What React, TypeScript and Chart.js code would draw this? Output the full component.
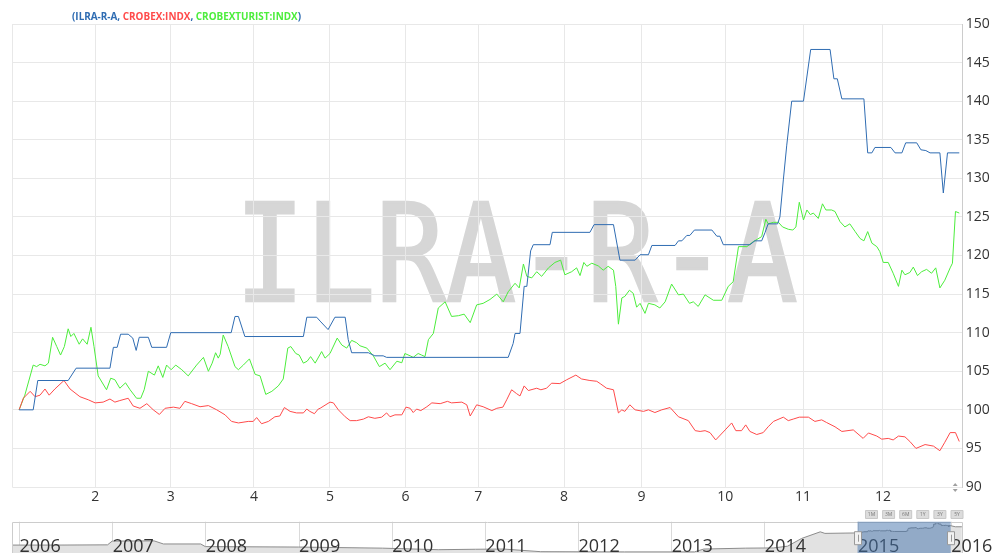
import React, { useEffect, useRef } from "react";
import { Chart, registerables } from "chart.js";

Chart.register(...registerables);

// ---------- data ----------
const HEADER_PARTS: [string, string][] = [
  ["(", "blue"],
  ["ILRA-R-A", "blue"],
  [", ", "blue"],
  ["CROBEX:INDX", "red"],
  [", ", "blue"],
  ["CROBEXTURIST:INDX", "green"],
  [")", "blue"],
];
const WATERMARK = "ILRA-R-A";

// x axis: trading-day index within 2015
const X_MAX = 250.1;
const MONTH_TICKS = [21.8, 41.7, 63.6, 83.6, 103.5, 122.6, 145.2, 165.6, 187.6, 208.1, 229.1];
const MONTH_LABELS = ["2", "3", "4", "5", "6", "7", "8", "9", "10", "11", "12"];
const Y_MIN = 90;
const Y_MAX = 150;
const Y_STEP = 5;

const ILRA: [number, number][] = [
  [1.8, 100], [5.5, 100], [6.7, 103.8], [14.7, 103.8], [16.8, 105.4], [25.7, 105.4],
  [26.6, 108.1], [27.6, 108.1], [28.5, 109.8], [30.5, 109.8], [31.7, 109.3], [32.6, 107.7],
  [33.4, 109.4], [35.8, 109.4], [36.7, 108.1], [40.6, 108.1], [41.7, 110.0], [57.6, 110.0],
  [58.6, 112.1], [59.5, 112.1], [61.2, 109.5], [76.6, 109.5], [77.5, 112.0], [80.1, 112.0],
  [81.0, 111.5], [83.1, 110.4], [84.9, 112.0], [87.6, 112.0], [88.4, 109.1], [89.3, 107.4],
  [93.7, 107.4], [95.4, 107.0], [97.6, 107.0], [98.5, 106.8], [130.5, 106.8], [131.8, 108.6],
  [132.3, 109.9], [133.6, 109.9], [134.7, 116.0], [135.4, 116.0], [136.4, 120.6], [137.1, 121.4],
  [141.5, 121.4], [142.1, 123.0], [152.0, 123.0], [153.1, 124.0], [158.2, 124.0], [159.9, 119.4],
  [163.9, 119.4], [165.2, 120.1], [167.4, 120.1], [168.3, 121.3], [174.4, 121.3], [175.3, 121.9],
  [176.2, 121.9], [177.5, 122.6], [178.3, 122.6], [179.5, 123.3], [184.1, 123.3], [185.4, 122.5],
  [186.2, 122.5], [187.1, 121.4], [194.1, 121.4], [195.4, 121.9], [197.2, 121.9], [198.1, 123.0],
  [198.9, 124.1], [201.4, 124.1], [202.0, 125.0], [202.9, 129.8], [203.8, 134.3], [205.1, 140.0],
  [208.2, 140.0], [210.1, 146.7], [215.2, 146.7], [216.2, 142.9], [217.1, 142.9], [218.3, 140.3],
  [224.1, 140.3], [225.1, 133.3], [226.2, 133.3], [227.0, 134.0], [231.2, 134.0], [232.3, 133.3],
  [234.1, 133.3], [235.1, 134.6], [238.0, 134.6], [239.1, 133.7], [240.4, 133.6], [241.5, 133.3],
  [244.1, 133.3], [245.0, 128.1], [246.1, 133.3], [249.2, 133.3],
];

const CROBEX: [number, number][] = [
  [1.8, 100], [2.9, 101.5], [4.7, 102.4], [6.0, 101.7], [7.3, 101.9], [8.6, 102.7], [9.7, 101.9],
  [11.2, 102.7], [13.6, 103.8], [15.2, 102.7], [17.8, 101.7], [20.0, 101.3], [21.8, 100.9],
  [23.9, 101.0], [25.7, 101.4], [27.0, 101.0], [28.3, 101.2], [30.5, 101.5], [31.8, 100.5],
  [33.6, 100.2], [35.4, 100.8], [37.1, 100.0], [38.7, 99.4], [40.2, 100.2], [42.4, 100.35],
  [44.1, 100.2], [45.4, 101.1], [47.2, 100.8], [49.4, 100.4], [51.6, 100.55], [53.8, 100.0],
  [56.0, 99.35], [57.7, 98.5], [59.5, 98.3], [62.1, 98.5], [63.4, 98.5], [64.3, 99.0], [65.6, 98.2],
  [67.4, 98.5], [69.1, 99.1], [70.4, 99.2], [71.6, 100.3], [73.1, 99.8], [74.8, 99.6], [76.6, 99.6],
  [77.5, 100.1], [78.3, 99.8], [79.5, 99.5], [80.5, 100.1], [81.0, 100.2], [83.6, 101.0],
  [84.5, 100.9], [85.8, 100.0], [87.6, 99.1], [88.9, 98.6], [90.6, 98.6], [92.4, 98.8], [93.7, 99.1],
  [95.4, 98.9], [97.2, 99.05], [98.5, 99.6], [99.4, 99.1], [100.7, 99.35], [102.5, 99.35],
  [103.6, 100.35], [104.7, 100.2], [105.5, 99.65], [106.4, 100.1], [107.5, 99.9], [109.1, 100.4],
  [110.4, 100.9], [112.6, 100.8], [114.5, 101.1], [115.6, 100.9], [118.3, 101.0], [119.6, 100.65],
  [120.5, 99.2], [122.2, 100.65], [123.9, 100.4], [126.2, 99.9], [127.5, 100.2], [129.1, 100.35],
  [130.1, 101.3], [131.4, 102.6], [132.7, 102.1], [133.6, 101.8], [134.7, 103.1], [135.8, 102.5],
  [138.0, 102.8], [139.1, 102.6], [140.6, 102.8], [141.9, 103.45], [144.1, 103.4], [145.9, 103.9],
  [148.3, 104.5], [149.8, 104.0], [152.0, 103.8], [153.8, 103.7], [154.7, 103.4], [156.4, 102.8],
  [158.2, 102.6], [159.5, 99.6], [160.4, 100.0], [161.2, 99.8], [162.5, 100.65], [163.9, 100.0],
  [166.1, 99.8], [167.4, 100.0], [169.1, 99.65], [170.9, 100.0], [173.1, 100.3], [175.3, 99.1],
  [177.9, 98.6], [179.7, 97.3], [181.0, 97.2], [182.3, 97.3], [183.6, 97.05], [185.1, 96.1],
  [187.6, 97.4], [189.3, 98.3], [190.4, 97.3], [191.9, 97.3], [193.0, 98.05], [194.1, 97.2],
  [195.9, 96.8], [197.6, 97.05], [198.9, 97.8], [200.3, 98.5], [202.9, 99.05], [204.2, 98.6],
  [205.5, 98.8], [207.1, 99.05], [209.5, 99.05], [211.2, 98.5], [213.0, 98.7], [214.3, 98.35],
  [216.5, 97.8], [218.3, 97.2], [221.3, 97.4], [223.9, 96.3], [225.3, 97.0], [227.5, 96.6],
  [228.8, 96.2], [230.5, 96.3], [231.8, 96.1], [233.2, 96.6], [234.9, 96.5], [236.2, 95.9],
  [237.8, 95.0], [240.2, 95.5], [242.4, 95.3], [244.1, 94.7], [245.4, 95.8], [246.8, 97.05],
  [248.2, 97.05], [249.2, 95.9],
];

const CROBEXTURIST: [number, number][] = [
  [1.8, 100], [3.3, 101.9], [5.5, 105.8], [6.4, 105.6], [7.3, 105.9], [8.6, 105.7], [9.5, 106.05],
  [10.6, 109.4], [11.7, 108.2], [12.7, 107.1], [13.7, 108.2], [14.7, 110.5], [15.4, 109.5],
  [16.2, 109.9], [17.6, 108.5], [18.5, 109.2], [19.7, 108.5], [20.7, 110.7], [21.5, 108.2],
  [22.6, 104.4], [24.8, 102.6], [25.9, 104.1], [27.0, 103.9], [28.3, 102.8], [29.8, 103.5],
  [31.0, 102.6], [32.7, 101.5], [33.8, 101.5], [34.7, 102.6], [35.8, 105.0], [37.4, 104.5],
  [38.4, 105.7], [39.6, 104.2], [40.6, 105.8], [41.8, 105.2], [43.0, 105.8], [44.6, 105.2],
  [46.3, 104.4], [48.5, 105.8], [50.3, 106.8], [51.6, 105.0], [52.6, 106.05], [53.5, 107.4],
  [54.2, 106.7], [54.7, 107.2], [55.5, 109.7], [56.8, 108.2], [58.6, 105.6], [59.5, 105.2],
  [60.8, 105.8], [62.4, 106.6], [63.9, 104.6], [65.2, 104.4], [66.7, 102.0], [68.3, 102.4],
  [70.0, 103.1], [71.3, 104.0], [72.5, 108.0], [73.3, 108.2], [74.6, 107.3], [75.5, 107.1],
  [76.6, 106.05], [77.6, 106.3], [78.5, 106.9], [79.7, 106.05], [81.4, 107.55], [82.3, 106.7],
  [83.6, 107.3], [85.5, 109.3], [86.7, 108.4], [88.0, 108.0], [89.3, 109.0], [90.6, 108.7],
  [91.5, 108.3], [93.3, 108.0], [95.0, 107.0], [96.6, 105.6], [98.1, 106.05], [99.4, 105.2],
  [101.2, 106.3], [102.5, 106.1], [103.3, 107.3], [104.7, 107.0], [105.5, 106.8], [106.8, 107.3],
  [107.7, 107.1], [108.6, 106.9], [109.5, 109.1], [110.8, 109.9], [112.1, 113.2], [113.9, 114.0],
  [115.6, 112.1], [117.4, 112.2], [118.9, 112.4], [120.5, 111.3], [122.2, 113.6], [123.9, 113.8],
  [125.7, 114.3], [127.5, 115.0], [129.2, 114.0], [130.5, 115.3], [132.3, 116.4], [133.4, 115.8],
  [134.5, 118.9], [135.4, 117.3], [136.7, 117.1], [138.0, 117.9], [139.3, 117.3], [141.1, 118.4],
  [142.8, 119.1], [144.3, 119.4], [145.4, 117.5], [147.2, 117.9], [148.5, 118.4], [149.4, 117.4],
  [150.4, 119.1], [151.2, 118.6], [152.5, 119.0], [154.2, 118.65], [155.5, 118.1], [156.8, 118.6],
  [158.2, 118.1], [158.8, 116.0], [159.5, 111.1], [160.4, 114.5], [161.2, 114.7], [162.4, 115.5],
  [163.4, 115.1], [164.3, 113.3], [165.2, 113.8], [166.5, 112.5], [167.4, 113.8], [169.1, 113.6],
  [170.4, 113.2], [171.8, 114.0], [173.5, 116.3], [175.3, 114.9], [176.6, 115.0], [178.2, 113.8],
  [179.2, 114.0], [180.5, 113.4], [182.3, 114.9], [184.5, 114.2], [186.7, 114.2], [188.4, 116.0],
  [189.7, 116.6], [191.1, 121.15], [193.3, 121.15], [195.0, 121.8], [197.2, 122.45], [198.3, 124.7],
  [198.9, 124.1], [200.3, 124.3], [201.6, 124.3], [202.7, 123.7], [204.2, 123.4], [205.4, 123.3],
  [206.2, 123.7], [207.1, 126.9], [208.2, 124.6], [209.1, 125.9], [210.0, 125.3], [210.8, 125.5],
  [212.1, 124.8], [213.2, 126.7], [214.1, 125.9], [215.6, 125.9], [216.5, 125.7], [217.8, 124.4],
  [219.1, 123.7], [220.4, 124.1], [221.8, 123.1], [223.1, 122.2], [224.1, 121.9], [225.1, 123.1],
  [226.2, 121.6], [227.5, 121.15], [228.3, 120.5], [229.2, 119.1], [230.5, 119.1], [231.8, 117.7],
  [233.2, 116.0], [234.1, 118.1], [234.9, 117.5], [236.2, 117.8], [237.1, 118.5], [238.2, 117.4],
  [239.3, 117.9], [240.6, 118.2], [241.9, 117.7], [243.0, 118.4], [244.1, 115.8], [245.4, 116.8],
  [246.8, 118.4], [247.4, 119.0], [248.2, 125.7], [249.2, 125.5],
];

// navigator (long history, years)
const NAV_X_MIN = 2005.928;
const NAV_X_MAX = 2016.129;
const NAV_Y_MIN = 9;
const NAV_Y_MAX = 151;
const NAV_YEARS = [2006, 2007, 2008, 2009, 2010, 2011, 2012, 2013, 2014, 2015, 2016];
const NAV_SELECTED_FROM = 2015;
const NAV_SELECTED_TO = 2016;
const NAV_HISTORY: [number, number][] = [
  [2005.93, 45], [2006.4, 45], [2006.95, 46], [2007.0, 63], [2007.45, 64], [2007.55, 50],
  [2007.95, 50], [2008.0, 38], [2009.0, 36], [2009.9, 31], [2010.5, 24], [2010.9, 26],
  [2011.2, 27], [2011.6, 15], [2012.5, 14], [2013.25, 14], [2013.35, 27], [2013.8, 31],
  [2014.1, 32], [2014.25, 40], [2014.4, 75], [2014.6, 105], [2014.65, 98], [2014.99, 100],
];
const NAV_TAIL: [number, number][] = [[2016.05, 128], [2016.12, 128]];
const RANGE_BUTTONS = ["1M", "3M", "6M", "1Y", "3Y", "5Y"];

// ---------- styles ----------
const COLORS: Record<string, string> = {
  blue: "#2f6cb2",
  red: "#ff4a4a",
  green: "#4ced3c",
};
const GRID = "#e8e8e8";
const LABEL = "#333333";
const FONT = '"Open Sans", "DejaVu Sans", sans-serif';
const MARK_FONT = '"DejaVu Sans Mono", "Liberation Mono", monospace';

const W = 994;
const MAIN_H = 505;
const NAV_TOP = 505;
const NAV_H = 48;

const mainDecor = {
  id: "mainDecor",
  beforeDraw(chart: any) {
    const { ctx } = chart;
    ctx.save();
    ctx.font = `136px ${MARK_FONT}`;
    ctx.textAlign = "left";
    ctx.textBaseline = "alphabetic";
    const m = ctx.measureText(WATERMARK);
    const inkW = m.actualBoundingBoxLeft + m.actualBoundingBoxRight;
    const left = 246;
    const right = 796;
    ctx.translate(left, 300.7);
    ctx.scale((right - left) / inkW, 1);
    ctx.fillStyle = "#d6d6d6";
    ctx.strokeStyle = "#d6d6d6";
    ctx.lineWidth = 2.4;
    ctx.lineJoin = "miter";
    ctx.fillText(WATERMARK, m.actualBoundingBoxLeft, 0);
    ctx.strokeText(WATERMARK, m.actualBoundingBoxLeft, 0);
    ctx.restore();
  },
  afterDraw(chart: any) {
    const { ctx, chartArea } = chart;
    ctx.save();
    // header (series names)
    ctx.font = `bold 10.5px ${FONT}`;
    ctx.textBaseline = "alphabetic";
    const total = HEADER_PARTS.reduce((s, [t]) => s + ctx.measureText(t).width, 0);
    const sx = 229 / total;
    ctx.translate(72, 20);
    ctx.scale(sx, 1);
    let x = 0;
    for (const [t, c] of HEADER_PARTS) {
      ctx.fillStyle = COLORS[c];
      ctx.fillText(t, x, 0);
      x += ctx.measureText(t).width;
    }
    ctx.restore();

    // small up/down glyph near the bottom of the value axis
    ctx.save();
    ctx.fillStyle = "#a0a0a0";
    const gx = chartArea.right - 7.5;
    const gy = chartArea.bottom;
    ctx.beginPath();
    ctx.moveTo(gx - 2.5, gy - 1);
    ctx.lineTo(gx + 2.5, gy - 1);
    ctx.lineTo(gx, gy - 4);
    ctx.closePath();
    ctx.fill();
    ctx.beginPath();
    ctx.moveTo(gx - 2.5, gy + 2);
    ctx.lineTo(gx + 2.5, gy + 2);
    ctx.lineTo(gx, gy + 5);
    ctx.closePath();
    ctx.fill();
    ctx.restore();
  },
};

const navDecor = {
  id: "navDecor",
  beforeDatasetsDraw(chart: any) {
    const { ctx, chartArea, scales } = chart;
    ctx.save();
    ctx.strokeStyle = "#dadada";
    ctx.lineWidth = 1;
    for (const yr of NAV_YEARS) {
      const px = Math.round(scales.x.getPixelForValue(yr)) + 0.5;
      ctx.beginPath();
      ctx.moveTo(px, chartArea.top);
      ctx.lineTo(px, chartArea.bottom);
      ctx.stroke();
    }
    ctx.restore();
  },
  afterDatasetsDraw(chart: any) {
    const { ctx, chartArea, scales } = chart;
    ctx.save();
    // outline
    ctx.strokeStyle = "#cccccc";
    ctx.lineWidth = 1;
    const l = Math.round(chartArea.left) + 0.5;
    const r = Math.round(chartArea.right) - 0.5;
    const t = Math.round(chartArea.top) + 0.5;
    ctx.beginPath();
    ctx.moveTo(l, chartArea.bottom);
    ctx.lineTo(l, t);
    ctx.lineTo(r, t);
    ctx.lineTo(r, chartArea.bottom);
    ctx.stroke();

    // year labels
    ctx.font = `18px ${FONT}`;
    ctx.fillStyle = LABEL;
    ctx.textBaseline = "alphabetic";
    ctx.textAlign = "left";
    for (const yr of NAV_YEARS) {
      const px = scales.x.getPixelForValue(yr);
      ctx.fillText(String(yr), px + 0.5, chartArea.bottom - 1.5);
    }

    // selected range
    const x0 = scales.x.getPixelForValue(NAV_SELECTED_FROM);
    const x1 = scales.x.getPixelForValue(NAV_SELECTED_TO);
    ctx.fillStyle = "rgba(66, 114, 172, 0.5)";
    ctx.fillRect(x0, chartArea.top, x1 - x0, chartArea.bottom - chartArea.top);

    // handles
    for (const hx of [x0, x1]) {
      const hy = chartArea.top + 10;
      ctx.fillStyle = "#f2f2f2";
      ctx.strokeStyle = "#999999";
      ctx.beginPath();
      ctx.rect(Math.round(hx - 3.5) + 0.5, hy, 7, 13);
      ctx.fill();
      ctx.stroke();
      ctx.beginPath();
      ctx.moveTo(Math.round(hx) + 0.5, hy + 3);
      ctx.lineTo(Math.round(hx) + 0.5, hy + 10);
      ctx.stroke();
    }

    // range selector buttons
    const bw = 12;
    const bh = 8;
    const step = 17.1;
    const bx0 = 865;
    const by = 5;
    ctx.font = `5px ${FONT}`;
    ctx.textAlign = "center";
    ctx.textBaseline = "middle";
    RANGE_BUTTONS.forEach((b, i) => {
      const bx = bx0 + i * step;
      ctx.fillStyle = "#dcdcdc";
      ctx.strokeStyle = "#c8c8c8";
      ctx.beginPath();
      ctx.rect(bx + 0.5, by + 0.5, bw, bh);
      ctx.fill();
      ctx.stroke();
      ctx.fillStyle = "#777777";
      ctx.fillText(b, bx + bw / 2 + 0.5, by + bh / 2 + 0.8);
    });
    ctx.restore();
  },
};

export default function App() {
  const mainRef = useRef<HTMLCanvasElement>(null);
  const navRef = useRef<HTMLCanvasElement>(null);

  useEffect(() => {
    const pts = (arr: [number, number][]) => arr.map(([x, y]) => ({ x, y }));
    const tickFont = { family: FONT, size: 14 };

    const main = new Chart(mainRef.current as HTMLCanvasElement, {
      type: "line",
      data: {
        datasets: [
          { label: "ILRA-R-A", data: pts(ILRA), borderColor: COLORS.blue, borderWidth: 1, pointRadius: 0, tension: 0 },
          { label: "CROBEX:INDX", data: pts(CROBEX), borderColor: COLORS.red, borderWidth: 1, pointRadius: 0, tension: 0 },
          { label: "CROBEXTURIST:INDX", data: pts(CROBEXTURIST), borderColor: COLORS.green, borderWidth: 1, pointRadius: 0, tension: 0 },
        ],
      },
      options: {
        responsive: false,
        animation: false,
        devicePixelRatio: 1,
        layout: { padding: { left: 12.3, top: 24, right: 0, bottom: 0 } },
        plugins: { legend: { display: false }, tooltip: { enabled: false } },
        scales: {
          x: {
            type: "linear",
            min: 0,
            max: X_MAX,
            afterBuildTicks: (s: any) => {
              s.ticks = [0, ...MONTH_TICKS].map((v) => ({ value: v }));
            },
            afterFit: (s: any) => {
              s.height = MAIN_H - 487;
            },
            grid: { color: GRID, drawTicks: false, lineWidth: 1 },
            border: { display: false },
            ticks: {
              autoSkip: false,
              maxRotation: 0,
              padding: 2,
              font: tickFont,
              color: LABEL,
              callback: (_v: any, i: number) => (i === 0 ? "" : MONTH_LABELS[i - 1]),
            },
          },
          y: {
            type: "linear",
            position: "right",
            min: Y_MIN,
            max: Y_MAX,
            afterFit: (s: any) => {
              s.width = 31.3;
            },
            grid: { color: GRID, drawTicks: false, lineWidth: 1 },
            border: { color: "#cccccc" },
            ticks: { stepSize: Y_STEP, padding: 3, font: tickFont, color: LABEL },
          },
        },
      } as any,
      plugins: [mainDecor],
    });

    const navData = [
      ...NAV_HISTORY,
      ...ILRA.map(([x, v]) => [NAV_SELECTED_FROM + x / X_MAX, v] as [number, number]),
      ...NAV_TAIL,
    ];

    const nav = new Chart(navRef.current as HTMLCanvasElement, {
      type: "line",
      data: {
        datasets: [
          {
            data: pts(navData),
            borderColor: "#8c8c8c",
            borderWidth: 1,
            backgroundColor: "#e2e2e2",
            fill: "start",
            pointRadius: 0,
            tension: 0,
          },
        ],
      },
      options: {
        responsive: false,
        animation: false,
        devicePixelRatio: 1,
        layout: { padding: { left: 12.3, right: W - 962.7, top: 16.7, bottom: 0 } },
        plugins: { legend: { display: false }, tooltip: { enabled: false } },
        scales: {
          x: { type: "linear", display: false, min: NAV_X_MIN, max: NAV_X_MAX },
          y: { type: "linear", display: false, min: NAV_Y_MIN, max: NAV_Y_MAX },
        },
      } as any,
      plugins: [navDecor],
    });

    return () => {
      main.destroy();
      nav.destroy();
    };
  }, []);

  return (
    <div style={{ position: "fixed", left: 0, top: 0, width: W, height: MAIN_H + NAV_H, background: "#fff", overflow: "hidden" }}>
      <canvas ref={mainRef} width={W} height={MAIN_H} style={{ position: "absolute", left: 0, top: 0 }} />
      <canvas ref={navRef} width={W} height={NAV_H} style={{ position: "absolute", left: 0, top: NAV_TOP }} />
    </div>
  );
}
